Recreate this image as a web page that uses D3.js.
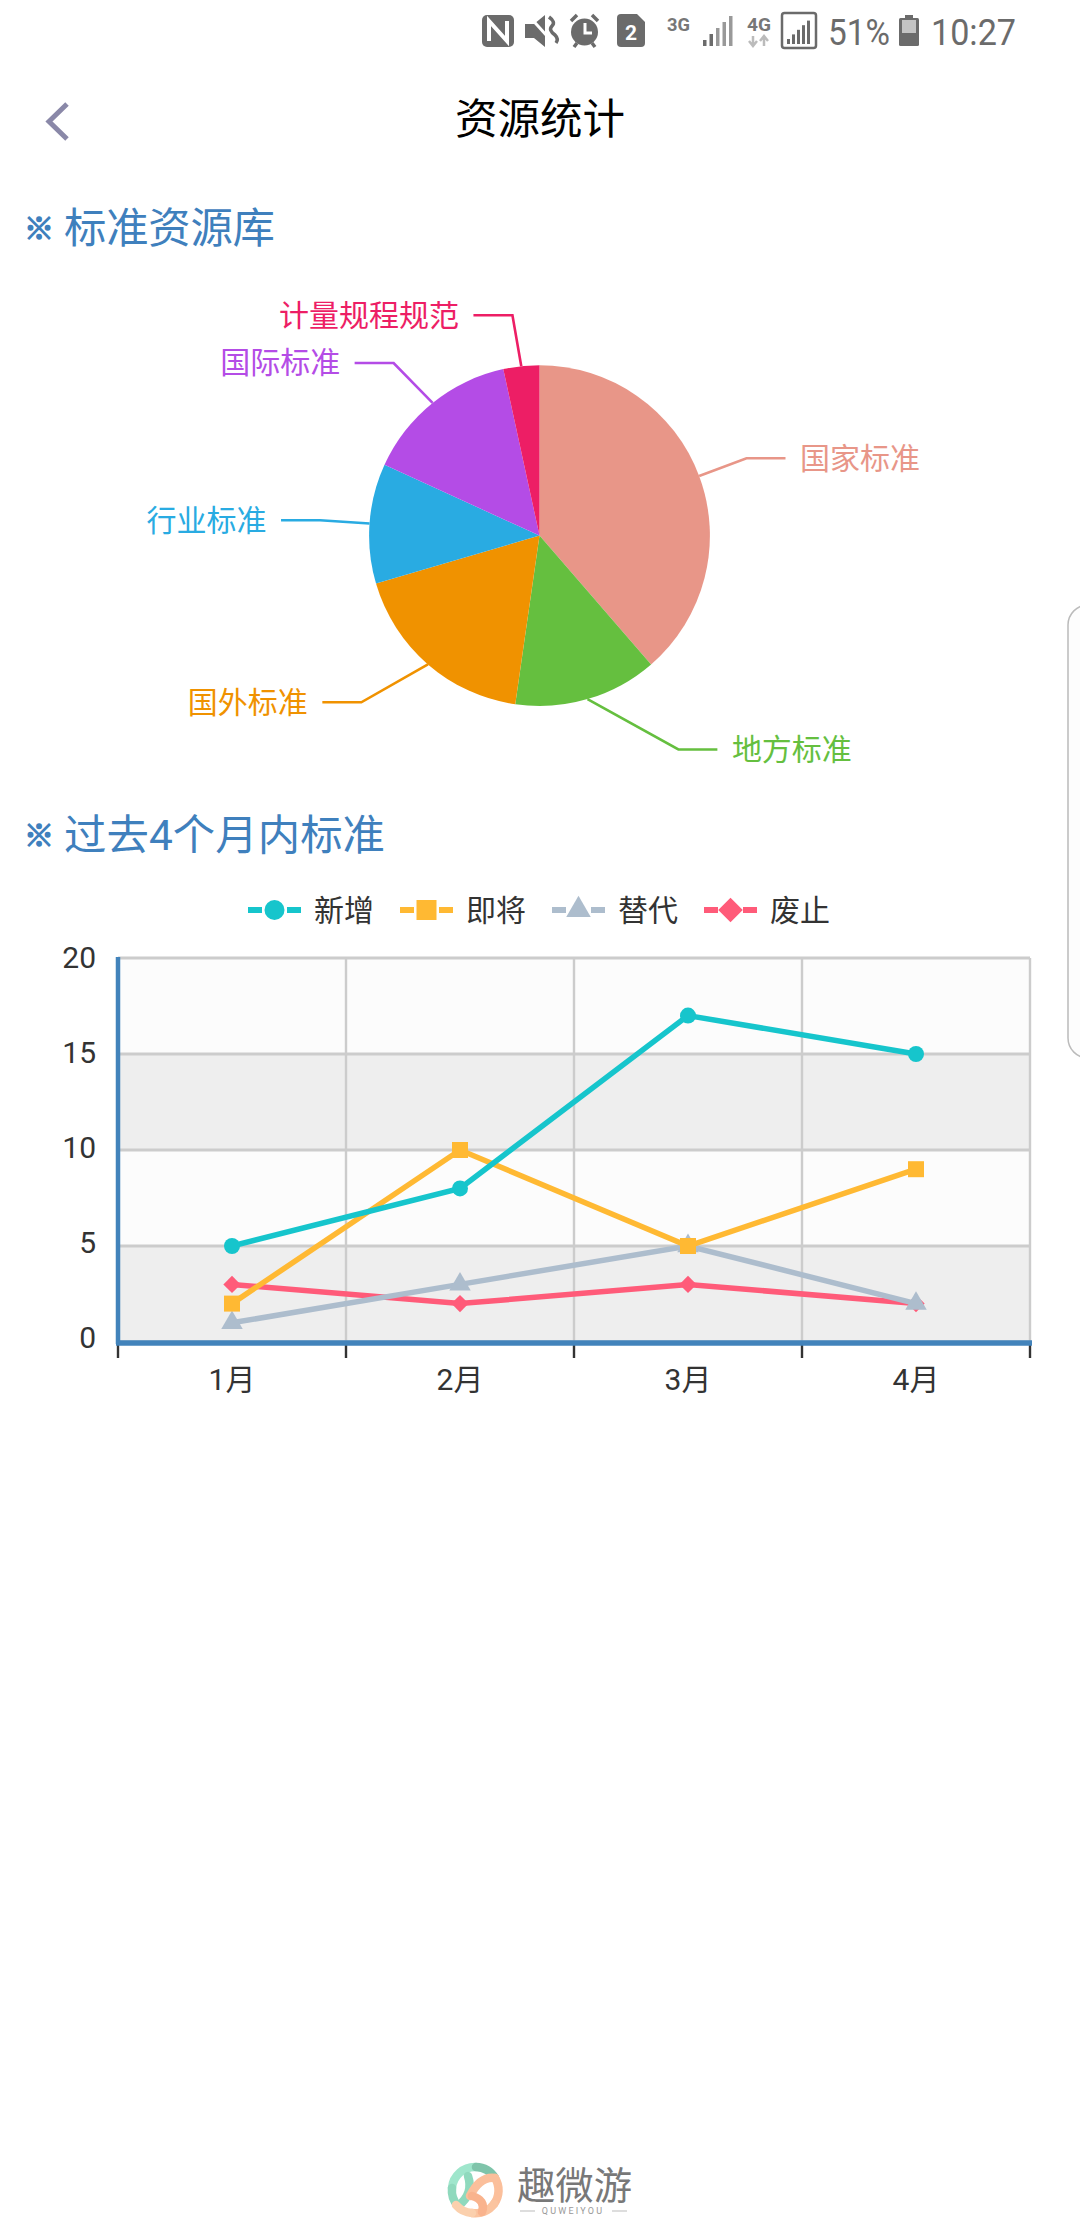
<!DOCTYPE html>
<html><head><meta charset="utf-8">
<script src="https://cdnjs.cloudflare.com/ajax/libs/d3/7.8.5/d3.min.js"></script>
<style>
html,body{margin:0;padding:0;background:#fff;overflow:hidden}
svg{display:block}
text{font-family:Roboto,"Noto Sans CJK SC",sans-serif}
</style></head><body>
<svg id="c" width="1080" height="2220"></svg>
<script>
// ---- data ----
const pieNames = ["国家标准","地方标准","国外标准","行业标准","国际标准","计量规程规范"];
const pieValues = [34,12,16,10,13,3];
const pieColors = ["#e89688","#65bf3f","#f09200","#29abe2","#b44ce6","#ed1e65"];
// leader-line elbow in polar form around the pie centre (label avoidance layout)
const elbowAngleDeg = [69.5,147,226.9,274,319.8,353];
const elbowRadius = [221,255,244,220,226,222];

const months = ["1月","2月","3月","4月"];
const yTicks = [0,5,10,15,20];
const seriesNames = ["新增","即将","替代","废止"];
const addedValues = [5,8,17,15];
const upcomingValues = [2,10,5,9];
const replacedValues = [1,3,5,2];
const abolishedValues = [3,2,3,2];
const seriesValues = [addedValues,upcomingValues,replacedValues,abolishedValues];
const seriesColors = ["#16c5cc","#ffb933","#adbdcd","#ff5b79"];
const squareDiamond = {draw(ctx,size){const r=Math.sqrt(size/2);ctx.moveTo(0,-r);ctx.lineTo(r,0);ctx.lineTo(0,r);ctx.lineTo(-r,0);ctx.closePath();}};
const seriesSymbols = [d3.symbolCircle,d3.symbolSquare,d3.symbolTriangle,squareDiamond];
const symbolAreas = [201,256,200,150];
const legendAreas = [314,400,260,300];

const svg = d3.select("#c");
const FONT_BLUE = "#3f80bd", AXIS_BLUE = "#4283bb", GRID = "#cccccc";

// ---- status bar ----
const st = svg.append("g").attr("fill","#6b6b6b");
// NFC
st.append("rect").attr("x",482).attr("y",15).attr("width",32).attr("height",32).attr("rx",5);
st.append("path").attr("d","M489 41V21L507 41V21").attr("fill","none").attr("stroke","#fff").attr("stroke-width",4);
// mute
st.append("path").attr("d","M525 24h9l11-9v32l-11-9h-9z");
st.append("path").attr("d","M528 15L557 47").attr("stroke","#fff").attr("stroke-width",3);
st.append("path").attr("d","M549 17q7 5 3 9q-4 4 3 9q4 4 1 8").attr("fill","none").attr("stroke","#6b6b6b").attr("stroke-width",3.5);
// alarm
st.append("circle").attr("cx",584.5).attr("cy",32).attr("r",13.5);
st.append("path").attr("d","M585 23v10h7").attr("fill","none").attr("stroke","#fff").attr("stroke-width",3);
st.append("path").attr("d","M571 21l6-6M598 21l-6-6M574 47l3-4M595 47l-3-4").attr("stroke","#6b6b6b").attr("stroke-width",3.5);
// sim
st.append("path").attr("d","M617 18a4 4 0 0 1 4-4h16l8 8v21a4 4 0 0 1-4 4h-20a4 4 0 0 1-4-4z");
st.append("text").attr("x",631).attr("y",40).attr("text-anchor","middle").attr("font-size",21).attr("font-weight",700).attr("fill","#fff").text("2");
// 3G
st.append("text").attr("x",667).attr("y",31).attr("font-size",18).attr("font-weight",700).attr("fill","#777").attr("textLength",23).attr("lengthAdjust","spacingAndGlyphs").text("3G");
// signal 1
[0,1,2,3,4].forEach(i=>st.append("rect").attr("x",703+i*6.5).attr("y",40-i*6).attr("width",3.5).attr("height",6+i*6).attr("fill",i<2?"#6b6b6b":"#999"));
// 4G
st.append("text").attr("x",747).attr("y",31).attr("font-size",18).attr("font-weight",700).attr("fill","#777").attr("textLength",24).attr("lengthAdjust","spacingAndGlyphs").text("4G");
st.append("path").attr("d","M753 36v9M749 41l4 5 4-5M764 46v-9M760 41l4-5 4 5").attr("fill","none").attr("stroke","#bbb").attr("stroke-width",2.5);
// signal 2
st.append("rect").attr("x",782).attr("y",13).attr("width",34).attr("height",35).attr("rx",2.5).attr("fill","none").attr("stroke","#6b6b6b").attr("stroke-width",2.5);
[0,1,2,3,4].forEach(i=>st.append("rect").attr("x",787+i*5).attr("y",39-i*4.6).attr("width",3).attr("height",5+i*4.6));
st.append("text").attr("x",828).attr("y",45).attr("font-size",37).attr("fill","#6b6b6b").attr("textLength",62).attr("lengthAdjust","spacingAndGlyphs").text("51%");
// battery
st.append("rect").attr("x",899).attr("y",18).attr("width",20).attr("height",28).attr("rx",1.5);
st.append("rect").attr("x",905).attr("y",15).attr("width",8).attr("height",3);
st.append("rect").attr("x",902).attr("y",20).attr("width",14).attr("height",13).attr("fill","#c4c4c4");
st.append("text").attr("x",931).attr("y",45).attr("font-size",37).attr("fill","#6b6b6b").attr("textLength",85).attr("lengthAdjust","spacingAndGlyphs").text("10:27");

// ---- nav bar ----
svg.append("path").attr("d","M67 104L49 121.5L67 139").attr("fill","none").attr("stroke","#8a88a8").attr("stroke-width",5);
svg.append("text").attr("x",540).attr("y",134).attr("text-anchor","middle").attr("font-size",42.5).attr("fill","#000").text("资源统计");

// ---- section headings ----
function heading(y,t,len){
  svg.append("text").attr("x",24).attr("y",y+11).attr("font-size",30).attr("fill",FONT_BLUE).attr("stroke",FONT_BLUE).attr("stroke-width",1.4).text("※");
  svg.append("text").attr("x",64).attr("y",y+15).attr("font-size",42.4).attr("fill",FONT_BLUE).attr("textLength",len).text(t);
}
heading(228,"标准资源库",211);
heading(835,"过去4个月内标准",321);

// ---- side handle ----
svg.append("rect").attr("x",1068).attr("y",605).attr("width",40).attr("height",453).attr("rx",20).attr("fill","#fdfdfd").attr("stroke","#bbbbbb").attr("stroke-width",1.5);

// ---- pie ----
const cx=539.5, cy=535.6, R=170.4;
const pieG = svg.append("g").attr("transform",`translate(${cx},${cy})`);
const arcs = d3.pie().sort(null)(pieValues);
const arc = d3.arc().innerRadius(0).outerRadius(R);
pieG.selectAll("path.s").data(arcs).join("path").attr("class","s").attr("d",arc).attr("fill",(d,i)=>pieColors[i]);
const polar=(a,r)=>[Math.sin(a)*r,-Math.cos(a)*r];
arcs.forEach((d,i)=>{
  const mid=(d.startAngle+d.endAngle)/2;
  const p0=polar(mid,R);
  const p1=polar(elbowAngleDeg[i]*Math.PI/180,elbowRadius[i]);
  const side=p1[0]>=0?1:-1;
  const p2=[p1[0]+side*39,p1[1]];
  pieG.append("path").attr("d",d3.line()([p0,p1,p2])).attr("fill","none").attr("stroke",pieColors[i]).attr("stroke-width",2.6);
  pieG.append("text").attr("x",p2[0]+side*14.5).attr("y",p2[1]-0.5).attr("dy","0.36em")
    .attr("text-anchor",side>0?"start":"end").attr("font-size",30).attr("fill",pieColors[i]).text(pieNames[i]);
});

// ---- line chart ----
const x=d3.scaleBand().domain(months).range([118,1030]);
const y=d3.scaleLinear().domain([0,20]).range([1342,958]);
const bands=d3.pairs(yTicks);
const lc=svg.append("g");
lc.selectAll("rect.band").data(bands).join("rect").attr("class","band")
  .attr("x",x.range()[0]).attr("width",912).attr("y",d=>y(d[1])).attr("height",d=>y(d[0])-y(d[1]))
  .attr("fill",(d,i)=>i%2===0?"#eeeeee":"#fcfcfc");
const edges=months.map(m=>x(m)).concat([x.range()[1]]);
lc.selectAll("line.v").data(edges.slice(1)).join("line").attr("class","v")
  .attr("x1",d=>d).attr("x2",d=>d).attr("y1",y(20)).attr("y2",y(0)).attr("stroke",GRID).attr("stroke-width",2.4);
lc.selectAll("line.h").data(yTicks).join("line").attr("class","h")
  .attr("x1",x.range()[0]).attr("x2",x.range()[1]).attr("y1",d=>y(d)).attr("y2",d=>y(d)).attr("stroke",GRID).attr("stroke-width",3);

// y axis (labels)
const ya=lc.append("g").attr("transform","translate(118,0)").call(d3.axisLeft(y).tickValues(yTicks).tickSize(0).tickPadding(22));
ya.select(".domain").remove();
ya.selectAll("text").attr("font-size",30).attr("fill","#333").attr("font-family",'Roboto,"Noto Sans CJK SC"').attr("dy","0.28em")
  .attr("transform",d=>`translate(0,${-3+d/5})`);
// x axis (labels + boundary ticks)
const xa=lc.append("g").attr("transform","translate(0,1342)").call(d3.axisBottom(x).tickSize(0).tickPadding(27));
xa.select(".domain").remove();
xa.selectAll("text").attr("font-size",30).attr("fill","#333").attr("font-family",'Roboto,"Noto Sans CJK SC"');
lc.selectAll("line.t").data(edges).join("line").attr("class","t")
  .attr("x1",d=>d).attr("x2",d=>d).attr("y1",y(0)).attr("y2",y(0)+16).attr("stroke","#333").attr("stroke-width",2.4);
// axis lines
lc.append("line").attr("x1",x.range()[0]).attr("x2",x.range()[0]).attr("y1",y(20)-1).attr("y2",y(0)+2).attr("stroke",AXIS_BLUE).attr("stroke-width",4.5);
lc.append("line").attr("x1",x.range()[0]-2).attr("x2",x.range()[1]+2).attr("y1",y(0)+1).attr("y2",y(0)+1).attr("stroke",AXIS_BLUE).attr("stroke-width",5.5);

// series, drawn last-to-first so the first series sits on top
const lineGen=d3.line().x((d,i)=>x(months[i])+x.bandwidth()/2).y(d=>y(d));
d3.range(seriesNames.length).reverse().forEach(s=>{
  const g=lc.append("g");
  g.append("path").attr("d",lineGen(seriesValues[s])).attr("fill","none").attr("stroke",seriesColors[s]).attr("stroke-width",5.5);
  const sym=d3.symbol().type(seriesSymbols[s]).size(symbolAreas[s]);
  g.selectAll("path.m").data(seriesValues[s]).join("path").attr("class","m").attr("d",sym())
    .attr("transform",(d,i)=>`translate(${x(months[i])+x.bandwidth()/2},${y(d)})`).attr("fill",seriesColors[s]);
});

// legend
const legX=d3.scaleLinear().domain([0,3]).range([248,704]);
seriesNames.forEach((n,i)=>{
  const g=svg.append("g").attr("transform",`translate(${legX(i)},910)`);
  g.append("line").attr("x1",0).attr("x2",53).attr("stroke",seriesColors[i]).attr("stroke-width",6).attr("stroke-dasharray","14 25 14");
  g.append("path").attr("d",d3.symbol().type(seriesSymbols[i]).size(legendAreas[i])()).attr("transform",`translate(26.5,0)`).attr("fill",seriesColors[i]);
  g.append("text").attr("x",66).attr("dy","0.36em").attr("font-size",30).attr("fill","#333").text(n);
});

// ---- watermark logo ----
const logo=svg.append("g").attr("transform","translate(474,2190)");
const swoosh=(d,c)=>logo.append("path").attr("d",d).attr("fill","none").attr("stroke",c).attr("stroke-width",8.5).attr("stroke-linecap","round");
swoosh("M-22 -2A23 23 0 0 1 2 -23","#9fe6cc");
swoosh("M2 -23A23 23 0 0 1 21 -12","#7fc4aa");
swoosh("M-22 -2A23 23 0 0 0 -16 16","#8fd9bd");
swoosh("M-16 16Q0 4 -6 -14","#8fd9bd");
swoosh("M21 -12A23 23 0 0 1 20 14","#fbbf9b");
swoosh("M20 14A23 23 0 0 1 -2 23","#fbc49f");
swoosh("M-2 23A23 23 0 0 1 -18 15","#fbd0ad");
swoosh("M-4 6Q6 -14 21 -12","#fbbf9b");
swoosh("M-2 6Q12 10 8 22","#f9b38d");
svg.append("text").attr("x",517).attr("y",2199).attr("font-size",38).attr("fill","#787878").attr("textLength",115).attr("lengthAdjust","spacingAndGlyphs").text("趣微游");
svg.append("text").attr("x",573).attr("y",2214).attr("text-anchor","middle").attr("font-size",9).attr("fill","#999").attr("letter-spacing",2.2).text("QUWEIYOU");
svg.append("path").attr("d","M520 2211H535M612 2211H627").attr("stroke","#bbb").attr("stroke-width",1);
</script>
</body></html>
